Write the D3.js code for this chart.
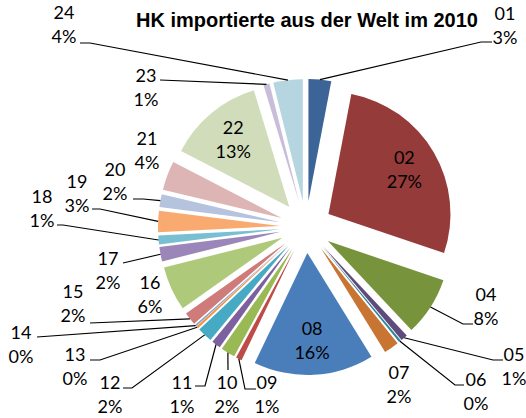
<!DOCTYPE html>
<html>
<head>
<meta charset="utf-8">
<script src="https://cdn.jsdelivr.net/npm/d3@7"></script>
<style>
  body { margin: 0; background: #fff; }
</style>
</head>
<body>
<svg id="pie-chart"></svg>
<script>
// HS sections (no 03 in the source sheet) and their share of imports, in %
const categories = ["01", "02", "04", "05", "06", "07", "08", "09", "10", "11", "12", "13",
                    "14", "15", "16", "17", "18", "19", "20", "21", "22", "23", "24"];
const shares = [3.0, 27.2, 7.8, 0.9, 0.3, 2.0, 15.9, 0.8, 1.9, 1.2, 2.0, 0.3,
                0.2, 1.7, 5.9, 1.9, 1.2, 2.8, 1.7, 3.9, 12.7, 0.8, 3.9];
const title = "HK importierte aus der Welt im 2010";

// office palette: darker, normal, lighter, lightest
const colours = ["#3c6496", "#953b39", "#77933c", "#604a7b", "#31859c", "#c87533",
                 "#4a7ebb", "#be4b48", "#98b954", "#7d60a0", "#46aac5", "#f69240",
                 "#7f9fcf", "#cf7b79", "#afc97a", "#9a86b8", "#79bfd3", "#f9aa70",
                 "#b5c3df", "#ddb5b4", "#d1ddba", "#c8bed9", "#b5d5e1"];

// where the outside labels were dragged to (centre of first line) and their leader knees
const labelSpots = {
  "01": {at: [505, 14], knee: [481, 42], end: [492, 42]},
  "04": {at: [486, 295], knee: [463, 324], end: [473, 324]},
  "05": {at: [514, 355], knee: [493, 360], end: [503, 360]},
  "06": {at: [476, 380], knee: [455, 385], end: [464, 385]},
  "07": {at: [399, 373]},
  "09": {at: [267, 383], knee: [245, 389], end: [256, 389]},
  "10": {at: [227, 383], knee: [228, 370], end: [228, 370]},
  "11": {at: [182, 383], knee: [205, 386], end: [195, 386]},
  "12": {at: [110, 383], knee: [132, 388], end: [123, 388]},
  "13": {at: [75, 355], knee: [100, 360], end: [90, 360]},
  "14": {at: [21, 333], knee: [37, 337], end: [37, 337]},
  "15": {at: [73, 292], knee: [90, 323], end: [90, 323]},
  "16": {at: [150, 283]},
  "17": {at: [108, 259], knee: [123, 263], end: [123, 263]},
  "18": {at: [42, 197], knee: [63, 225], end: [57, 225]},
  "19": {at: [77, 182], knee: [100, 209], end: [92, 209]},
  "20": {at: [115, 170], knee: [143, 199], end: [133, 199]},
  "21": {at: [147, 139]},
  "23": {at: [146, 76], knee: [160, 80], end: [160, 80]},
  "24": {at: [64, 13], knee: [90, 43], end: [80, 43]}
};

const width = 526, height = 418;
const cx = 306, cy = 227, radius = 122, explode = 26;
const lineGap = 24;

const svg = d3.select("#pie-chart")
    .attr("width", width)
    .attr("height", height)
    .style("font-family", "Lato, 'Open Sans', sans-serif");

svg.append("text")
    .attr("x", 307)
    .attr("y", 27)
    .attr("text-anchor", "middle")
    .style("font-family", "'Liberation Sans', Arial, sans-serif")
    .style("font-weight", "bold")
    .style("font-size", "20px")
    .text(title);

const rows = categories.map((c, i) => ({code: c, share: shares[i], colour: colours[i]}));
const total = d3.sum(shares);
const pct = d3.format(".0%");

const pie = d3.pie().sort(null).value(d => d.share);
const arcs = pie(rows);

const arc = d3.arc().innerRadius(0).outerRadius(radius);
const rim = d3.arc().innerRadius(radius).outerRadius(radius);
const inner = d3.arc().innerRadius(radius * 0.72).outerRadius(radius * 0.72);

function shift(d) {
  const a = (d.startAngle + d.endAngle) / 2;
  return [explode * Math.sin(a), -explode * Math.cos(a)];
}

const chart = svg.append("g")
    .attr("transform", `translate(${cx},${cy})`);

chart.selectAll("path.slice")
    .data(arcs)
    .enter().append("path")
    .attr("class", "slice")
    .attr("transform", d => `translate(${shift(d)})`)
    .attr("d", arc)
    .style("fill", d => d.data.colour);

// leader lines from the rim of each slice to its label
const leader = d3.line();
arcs.forEach(d => {
  const spot = labelSpots[d.data.code];
  if (!spot || !spot.knee) return;
  const s = shift(d), p = rim.centroid(d);
  const start = [cx + s[0] + p[0], cy + s[1] + p[1]];
  svg.append("path")
      .attr("d", leader([start, spot.knee, spot.end]))
      .style("fill", "none")
      .style("stroke", "#000")
      .style("stroke-width", 1.2);
});

// labels: category on the first line, share on the second
arcs.forEach(d => {
  const spot = labelSpots[d.data.code];
  let x, y;
  if (spot) {
    [x, y] = spot.at;
  } else {
    const s = shift(d), c = inner.centroid(d);
    x = cx + s[0] + c[0];
    y = cy + s[1] + c[1] - lineGap / 2;
  }
  const label = svg.append("text")
      .attr("text-anchor", "middle")
      .style("font-size", "18px")
      .style("fill", "#000");
  label.append("tspan")
      .attr("x", x).attr("y", y).attr("dy", "0.35em")
      .text(d.data.code);
  label.append("tspan")
      .attr("x", x).attr("y", y + lineGap).attr("dy", "0.35em")
      .text(pct(d.data.share / total));
});
</script>
</body>
</html>
